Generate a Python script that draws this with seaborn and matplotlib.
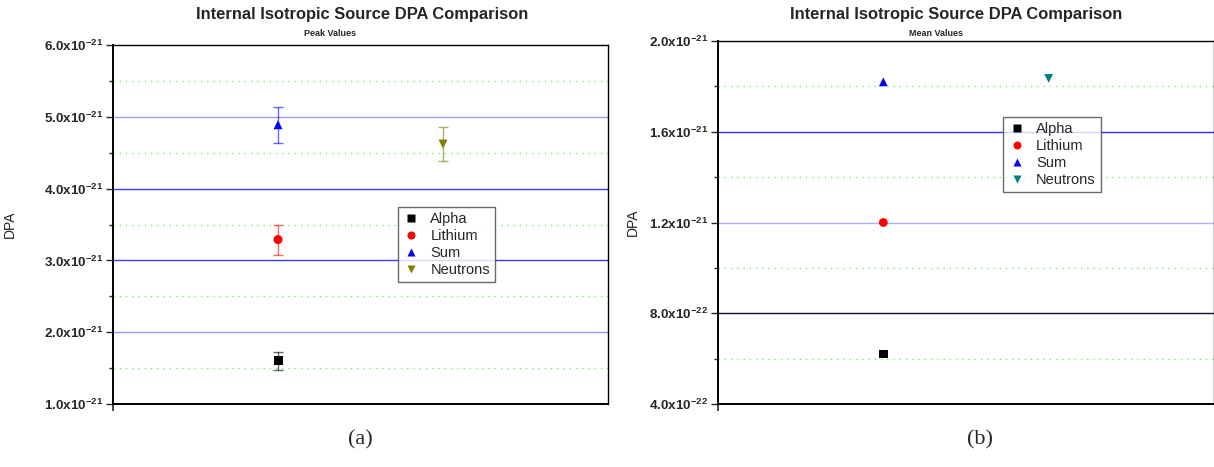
import numpy as np
import pandas as pd
import matplotlib
matplotlib.use('Agg')
import matplotlib.pyplot as plt
import seaborn as sns
from matplotlib.ticker import FixedLocator, FuncFormatter

# values
species = ['Alpha', 'Lithium', 'Sum', 'Neutrons']
group = [1, 1, 1, 2]
peak_dpa = [1.60e-21, 3.29e-21, 4.89e-21, 4.62e-21]
peak_err = [0.12e-21, 0.21e-21, 0.25e-21, 0.24e-21]
mean_dpa = [6.2e-22, 1.20e-21, 1.82e-21, 1.835e-21]

peak_df = pd.DataFrame({'species': species, 'group': group, 'DPA': peak_dpa, 'err': peak_err})
mean_df = pd.DataFrame({'species': species, 'group': group, 'DPA': mean_dpa})

sns.set_style('white')
plt.rcParams['font.family'] = ['Liberation Sans', 'DejaVu Sans']
plt.rcParams['mathtext.fontset'] = 'custom'
plt.rcParams['mathtext.rm'] = 'Liberation Sans'
plt.rcParams['mathtext.bf'] = 'Liberation Sans:bold'

markers = {'Alpha': 's', 'Lithium': 'o', 'Sum': '^', 'Neutrons': 'v'}
peak_colors = {'Alpha': 'black', 'Lithium': 'red', 'Sum': 'blue', 'Neutrons': '#808000'}
mean_colors = {'Alpha': 'black', 'Lithium': 'red', 'Sum': 'blue', 'Neutrons': '#008080'}


def sci_fmt(v, pos):
    if v == 0:
        return '0'
    exp = int(np.floor(np.log10(abs(v)) + 1e-9))
    mant = v / 10 ** exp
    return r'$\mathbf{%.1fx10^{%d}}$' % (mant, exp)


fig = plt.figure(figsize=(12.14, 4.67), dpi=100)
ax1 = fig.add_axes([0.0931, 0.1349, 0.4077, 0.7687])
ax2 = fig.add_axes([0.5914, 0.1349, 0.4086, 0.7773])

# peak values with error bars
for sp in species:
    row = peak_df[peak_df['species'] == sp]
    ax1.errorbar(row['group'], row['DPA'], yerr=row['err'], fmt='none',
                 ecolor=peak_colors[sp], alpha=0.6, elinewidth=1, capsize=3.5, capthick=1)
sns.scatterplot(data=peak_df, x='group', y='DPA', hue='species', style='species',
                markers=markers, palette=peak_colors, s=42, edgecolor='none', ax=ax1,
                zorder=3)
sns.scatterplot(data=mean_df, x='group', y='DPA', hue='species', style='species',
                markers=markers, palette=mean_colors, s=40, edgecolor='none', ax=ax2,
                zorder=3)


def style_axis(ax, lo, hi, major, minor, grid_cols, ylab_x):
    ax.set_xlim(0, 3)
    ax.set_ylim(lo, hi)
    n_major = int(round((hi - lo) / major))
    n_minor = int(round((hi - lo) / minor))
    major_locs = [lo + i * major for i in range(n_major + 1)]
    minor_locs = [lo + i * minor for i in range(n_minor + 1) if i % 2 == 1]
    ax.yaxis.set_major_locator(FixedLocator(major_locs))
    ax.yaxis.set_minor_locator(FixedLocator(minor_locs))
    ax.yaxis.set_major_formatter(FuncFormatter(sci_fmt))
    ax.set_xticks([0])
    ax.tick_params(axis='x', which='major', direction='out', length=5, width=1.2,
                   bottom=True, labelbottom=False)
    ax.tick_params(axis='y', which='major', direction='out', length=5, width=1,
                   left=True, labelsize=9.7, pad=2)
    ax.tick_params(axis='y', which='minor', direction='out', length=3, width=1, left=True)
    ax.grid(False)
    ax.yaxis.grid(True, which='minor', color='#55ee55', linestyle=(0, (1, 4)), linewidth=0.9)
    # major grid lines, each in its own shade as in the original
    inner = major_locs[1:-1]
    for v, c in zip(inner, grid_cols):
        ax.axhline(v, color=c, linewidth=1, zorder=1)
    for s in ['left', 'bottom']:
        ax.spines[s].set_linewidth(1.4)
        ax.spines[s].set_color('black')
    for s in ['top', 'right']:
        ax.spines[s].set_linewidth(1.0)
        ax.spines[s].set_color('black')
    ax.set_axisbelow(True)
    ax.set_xlabel('')
    ax.set_ylabel('DPA', fontsize=10)
    ax.yaxis.set_label_coords(ylab_x, 0.5)


style_axis(ax1, 1e-21, 6e-21, 1e-21, 0.5e-21,
           ['#9999ff', '#3a3aff', '#3a3aff', '#9999ff'], -0.194)
style_axis(ax2, 4e-22, 2e-21, 4e-22, 2e-22,
           ['#101040', '#b0b0ff', '#3030ff'], -0.158)

leg_kw = dict(title=None, loc='upper left', frameon=True, fancybox=False,
              edgecolor='#444444', fontsize=10.5, handletextpad=0.7, borderpad=0.35,
              labelspacing=0.2, markerscale=0.9, handlelength=1.2, borderaxespad=0)
ax1.legend(bbox_to_anchor=(0.575, 0.549), **leg_kw)
ax2.legend(bbox_to_anchor=(0.575, 0.79), **leg_kw)
for lg in (ax1.get_legend(), ax2.get_legend()):
    lg.get_frame().set_linewidth(1.0)

# titles
fig.text(362 / 1214, 1 - 14 / 467, 'Internal Isotropic Source DPA Comparison',
         ha='center', va='center', fontsize=11.9, fontweight='bold')
fig.text(330 / 1214, 1 - 33 / 467, 'Peak Values', ha='center', va='center',
         fontsize=6.5, fontweight='bold')
fig.text(956 / 1214, 1 - 14 / 467, 'Internal Isotropic Source DPA Comparison',
         ha='center', va='center', fontsize=11.9, fontweight='bold')
fig.text(936 / 1214, 1 - 33 / 467, 'Mean Values', ha='center', va='center',
         fontsize=6.5, fontweight='bold')

# panel captions
fig.text(360 / 1214, 1 - 440 / 467, '(a)', ha='center', va='center', fontsize=16,
         family=['Liberation Serif', 'DejaVu Serif'])
fig.text(980 / 1214, 1 - 440 / 467, '(b)', ha='center', va='center', fontsize=16,
         family=['Liberation Serif', 'DejaVu Serif'])

fig.savefig('out.png', dpi=100)
